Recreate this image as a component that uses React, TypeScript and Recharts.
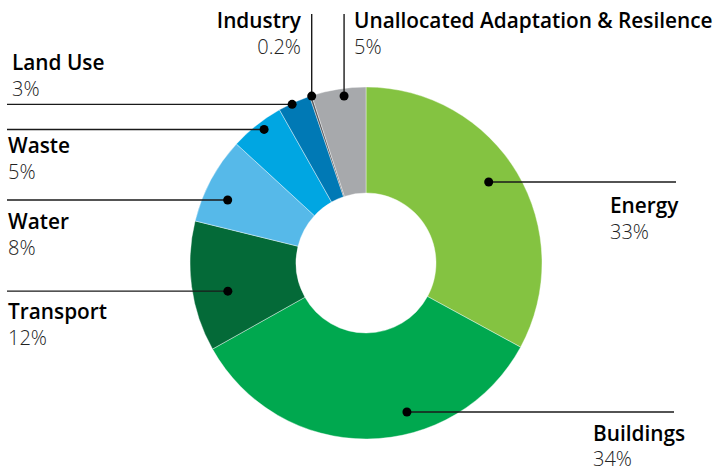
import React from "react";
import { PieChart, Pie, Cell } from "recharts";

const categories = ["Energy", "Buildings", "Transport", "Water", "Waste", "Land Use", "Industry", "Unallocated Adaptation & Resilence"];
const shares = [33, 34, 12, 8, 5, 3, 0.2, 5];
const shareLabels = ["33%", "34%", "12%", "8%", "5%", "3%", "0.2%", "5%"];
const colors = ["#84C341", "#00A84F", "#046A38", "#56B9E9", "#00A6E2", "#0079B5", "#55575A", "#A7A9AC"];

const data = categories.map((name, i) => ({ name, value: shares[i] }));

// annotation layout: dot angle offset (deg, clockwise), dot radius, leader direction/end, text position
type Lay = { off: number; r: number; dir: "h" | "v"; end: number; tx: number; ty: number; anchor: "start" | "end" };
const layout: Lay[] = [
  { off: -2.7, r: 147, dir: "h", end: 676, tx: 610, ty: 213, anchor: "start" },
  { off: -15, r: 154.5, dir: "h", end: 674, tx: 593, ty: 440.5, anchor: "start" },
  { off: -3.8, r: 141, dir: "h", end: 7, tx: 8, ty: 319, anchor: "start" },
  { off: -3.7, r: 152, dir: "h", end: 7, tx: 8, ty: 229, anchor: "start" },
  { off: 1.1, r: 168, dir: "h", end: 7, tx: 8, ty: 153, anchor: "start" },
  { off: -0.9, r: 175, dir: "h", end: 7, tx: 12, ty: 70, anchor: "start" },
  { off: 0.3, r: 175.5, dir: "v", end: 14, tx: 301, ty: 28, anchor: "end" },
  { off: 1.5, r: 168.4, dir: "v", end: 14, tx: 354, ty: 28, anchor: "start" },
];

const RAD = Math.PI / 180;

const renderLabel = (props: any) => {
  const { cx, cy, midAngle, index } = props;
  const l = layout[index];
  const a = midAngle - l.off; // recharts angle is counter-clockwise
  const x = cx + Math.cos(-a * RAD) * l.r;
  const y = cy + Math.sin(-a * RAD) * l.r;
  const x2 = l.dir === "h" ? l.end : x;
  const y2 = l.dir === "h" ? y : l.end;
  return (
    <g key={`lab-${index}`}>
      <line x1={x} y1={y} x2={x2} y2={y2} stroke="#1a1a1a" strokeWidth={1.4} />
      <circle cx={x} cy={y} r={4.5} fill="#000" />
      <text x={l.tx} y={l.ty} textAnchor={l.anchor} fontFamily="'Open Sans', sans-serif" fontWeight={600} fontSize={20.8} fill="#000">
        {categories[index]}
      </text>
      <text x={l.tx} y={l.ty + 25.5} textAnchor={l.anchor} fontFamily="'Open Sans', sans-serif" fontWeight={300} fontSize={20} fill="#222">
        {shareLabels[index]}
      </text>
    </g>
  );
};

export default function App() {
  return (
    <div style={{ width: 718, height: 468, background: "#fff" }}>
      <style>{`body{margin:0}`}</style>
      <PieChart width={718} height={468} margin={{ top: 0, right: 0, bottom: 0, left: 0 }}>
        <Pie
          data={data}
          dataKey="value"
          nameKey="name"
          cx={366}
          cy={263}
          innerRadius={70}
          outerRadius={176}
          startAngle={90}
          endAngle={-270}
          stroke="#ffffff"
          strokeWidth={0.4}
          label={renderLabel}
          labelLine={false}
          isAnimationActive={false}
        >
          {data.map((d, i) => (
            <Cell key={d.name} fill={colors[i]} />
          ))}
        </Pie>
      </PieChart>
    </div>
  );
}
